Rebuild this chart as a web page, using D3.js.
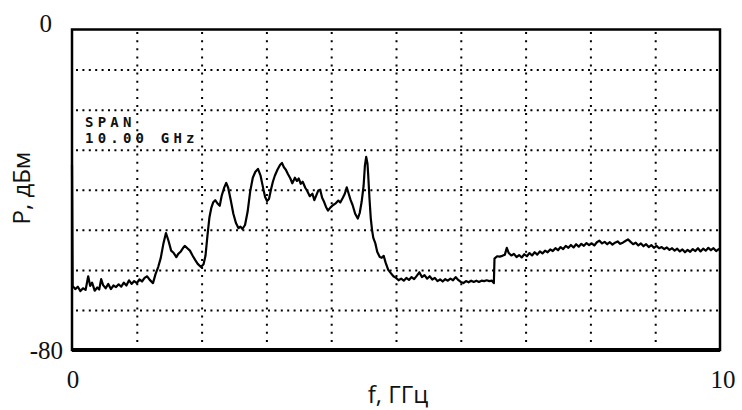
<!DOCTYPE html>
<html>
<head>
<meta charset="utf-8">
<script src="https://cdn.jsdelivr.net/npm/d3@7/dist/d3.min.js"></script>
<style>
   body { margin: 0; background: #fff; }
   .grid line { stroke: #000; stroke-width: 2; }
   .grid .domain { display: none; }
   .tick-label { font-family: "Liberation Serif", "DejaVu Serif", serif; font-size: 25px; fill: #111; }
   .axis-title { font-family: "Open Sans", "Noto Sans", sans-serif; font-size: 24px; fill: #111; }
   .span-text { font-family: "DejaVu Sans Mono", monospace; font-weight: bold; font-size: 14px; letter-spacing: 4.2px; fill: #111; }
   .trace { fill: none; stroke: #000; stroke-width: 2.2; stroke-linejoin: round; }
</style>
</head>
<body>
<div id="chart"></div>
<script>
   'use strict';

   // axis ticks
   var xTickLabels = [0, 10];
   var yTickLabels = [0, -80];
   var xGridValues = [1, 2, 3, 4, 5, 6, 7, 8, 9];
   var yGridValues = [-10, -20, -30, -40, -50, -60, -70];

   // spectrum trace
   var freqGHz = [
      0.00, 0.01, 0.05, 0.09, 0.13, 0.17, 0.21, 0.25, 0.28, 0.31, 0.35, 0.39, 0.42, 0.45, 0.48,
      0.52, 0.56, 0.60, 0.64, 0.68, 0.72, 0.76, 0.80, 0.84, 0.88, 0.92, 0.96, 1.00, 1.04, 1.08,
      1.12, 1.16, 1.20, 1.25, 1.29, 1.33, 1.37, 1.41, 1.45, 1.49, 1.53, 1.57, 1.61, 1.64, 1.68,
      1.72, 1.74, 1.78, 1.82, 1.86, 1.90, 1.94, 1.99, 2.03, 2.06, 2.09, 2.12, 2.15, 2.18, 2.21,
      2.25, 2.28, 2.31, 2.35, 2.38, 2.41, 2.45, 2.49, 2.53, 2.57, 2.60, 2.63, 2.67, 2.71, 2.75,
      2.79, 2.83, 2.87, 2.91, 2.95, 2.98, 3.01, 3.04, 3.07, 3.10, 3.13, 3.17, 3.21, 3.24, 3.27,
      3.30, 3.33, 3.37, 3.40, 3.44, 3.47, 3.50, 3.53, 3.56, 3.60, 3.63, 3.67, 3.71, 3.74, 3.77,
      3.80, 3.83, 3.86, 3.89, 3.92, 3.95, 3.99, 4.03, 4.07, 4.11, 4.14, 4.18, 4.21, 4.24, 4.27,
      4.30, 4.33, 4.37, 4.41, 4.44, 4.47, 4.50, 4.52, 4.54, 4.56, 4.57, 4.59, 4.61, 4.63, 4.65,
      4.68, 4.71, 4.75, 4.78, 4.81, 4.84, 4.88, 4.92, 4.96, 5.00, 5.04, 5.08, 5.12, 5.16, 5.20,
      5.24, 5.28, 5.32, 5.36, 5.40, 5.44, 5.48, 5.52, 5.56, 5.60, 5.64, 5.68, 5.72, 5.76, 5.80,
      5.84, 5.88, 5.92, 5.96, 6.00, 6.04, 6.08, 6.12, 6.16, 6.20, 6.24, 6.28, 6.32, 6.36, 6.40,
      6.44, 6.48, 6.51, 6.52, 6.56, 6.60, 6.64, 6.68, 6.71, 6.74, 6.78, 6.82, 6.86, 6.90, 6.94,
      6.98, 7.02, 7.06, 7.10, 7.14, 7.18, 7.22, 7.26, 7.30, 7.34, 7.38, 7.42, 7.46, 7.50, 7.54,
      7.58, 7.62, 7.66, 7.70, 7.74, 7.78, 7.82, 7.86, 7.90, 7.94, 7.98, 8.02, 8.06, 8.10, 8.14,
      8.18, 8.22, 8.26, 8.30, 8.34, 8.38, 8.42, 8.46, 8.50, 8.54, 8.58, 8.62, 8.66, 8.70, 8.74,
      8.78, 8.82, 8.86, 8.90, 8.94, 8.98, 9.02, 9.06, 9.10, 9.14, 9.18, 9.22, 9.26, 9.30, 9.34,
      9.38, 9.42, 9.46, 9.50, 9.54, 9.58, 9.62, 9.66, 9.70, 9.74, 9.78, 9.82, 9.86, 9.90, 9.94,
      9.98, 10.00
   ];
   var powerDbm = [
      -33.8, -64.0, -64.8, -64.2, -65.3, -64.6, -65.0, -61.6, -64.0, -63.2, -65.2, -64.4, -64.9, -62.3, -63.8,
      -64.6, -63.5, -64.8, -63.9, -64.3, -63.6, -64.2, -63.2, -63.9, -62.6, -63.5, -62.8, -63.3, -62.4, -62.9,
      -62.0, -61.6, -62.5, -63.3, -61.0, -59.3, -57.0, -53.5, -50.8, -52.8, -55.2, -55.8, -56.8, -56.0, -55.4,
      -54.4, -54.0, -54.6, -55.2, -56.4, -57.5, -58.5, -59.3, -58.6, -56.5, -51.5, -47.0, -44.5, -43.1, -42.6,
      -43.5, -44.0, -41.5, -39.4, -38.3, -39.5, -42.6, -46.0, -48.3, -49.6, -49.2, -49.8, -48.8, -45.5, -40.4,
      -37.0, -35.5, -34.8, -36.5, -39.6, -41.8, -42.8, -42.3, -40.0, -38.0, -36.5, -35.0, -33.8, -33.3, -34.4,
      -35.0, -36.0, -37.2, -38.4, -37.0, -37.8, -37.2, -38.5, -38.0, -39.5, -40.3, -41.6, -41.0, -42.6, -41.4,
      -40.2, -40.0, -42.0, -43.0, -44.3, -45.2, -44.4, -43.8, -43.4, -42.7, -43.2, -42.0, -41.0, -39.4, -41.0,
      -42.6, -43.8, -46.0, -47.2, -45.8, -43.0, -39.0, -34.0, -31.8, -33.5, -36.0, -42.0, -47.0, -50.0, -52.0,
      -53.3, -55.5, -56.8, -57.0, -56.5, -58.2, -60.0, -60.8, -61.6, -62.0, -62.6, -62.2, -62.7, -62.0, -62.5,
      -61.8, -62.3, -61.5, -60.6, -61.8, -61.3, -62.2, -61.6, -62.4, -62.0, -62.8, -62.4, -62.9, -62.3, -62.7,
      -62.2, -62.6, -61.8, -62.5, -63.0, -63.3, -62.8, -63.1, -62.7, -63.0, -62.7, -63.0, -62.7, -62.8, -62.6,
      -62.8, -62.7, -63.3, -57.2, -56.6, -56.7, -56.5, -56.2, -54.5, -55.8, -56.4, -56.0, -56.8, -56.3, -56.9,
      -56.1, -56.6, -55.8, -56.4, -55.6, -56.2, -55.4, -55.9, -55.2, -55.6, -54.9, -55.3, -54.6, -55.1, -54.3,
      -54.8, -54.0, -54.5, -53.8, -54.4, -53.6, -54.2, -53.5, -54.0, -53.3, -53.8, -53.4, -53.9, -53.1, -52.7,
      -53.4, -53.0, -53.6, -53.1, -53.7, -53.2, -52.9, -53.5, -53.2, -52.8, -52.4, -53.0, -53.6, -53.2, -53.9,
      -53.4, -54.1, -53.6, -54.3, -53.8, -54.5, -54.0, -54.6, -54.3, -54.8, -54.4, -55.0, -54.6, -55.2, -54.7,
      -55.4, -54.9, -55.6, -55.0, -55.5, -54.8, -55.3, -54.6, -55.4, -54.7, -55.2, -54.5, -55.1, -54.6, -55.3,
      -54.8, -55.0
   ];

   var width = 742, height = 410;
   var margin = { top: 29.5, right: 22, bottom: 60, left: 72 };
   var w = width - margin.left - margin.right;
   var h = height - margin.top - margin.bottom;

   var data = freqGHz.map(function (f, i) { return { x: f, y: powerDbm[i] }; });

   var xScale = d3.scaleLinear().domain([0, 10]).range([0, w]);
   var yScale = d3.scaleLinear().domain([-80, 0]).range([h, 0]);

   var svg = d3.select('#chart')
      .append('svg')
      .attr('width', width)
      .attr('height', height);

   var focus = svg.append('g')
      .attr('transform', 'translate(' + margin.left + ',' + margin.top + ')');

   // dotted grid
   focus.append('g')
      .attr('class', 'grid grid--x')
      .attr('transform', 'translate(0,' + h + ')')
      .call(d3.axisBottom(xScale).tickValues(xGridValues).tickSize(-h).tickFormat(''))
      .selectAll('line')
      .attr('stroke-dasharray', '2,6.1');

   focus.append('g')
      .attr('class', 'grid grid--y')
      .call(d3.axisLeft(yScale).tickValues(yGridValues).tickSize(-w + 4).tickFormat(''))
      .selectAll('line')
      .attr('transform', 'translate(4,0)')
      .attr('stroke-dasharray', '2,4.4');

   // the trace
   var valueline = d3.line()
      .x(function (d) { return xScale(d.x); })
      .y(function (d) { return yScale(d.y); });

   focus.append('path')
      .datum(data)
      .attr('class', 'trace')
      .attr('d', valueline);

   // frame
   focus.append('rect')
      .attr('x', 0).attr('y', 0)
      .attr('width', w).attr('height', h)
      .attr('fill', 'none')
      .attr('stroke', '#000')
      .attr('stroke-width', 2.5);
   focus.append('line')
      .attr('x1', 0).attr('x2', w)
      .attr('y1', h).attr('y2', h)
      .attr('stroke', '#000')
      .attr('stroke-width', 4);

   // tick labels
   focus.selectAll('.xlab')
      .data(xTickLabels)
      .enter().append('text')
      .attr('class', 'tick-label')
      .attr('text-anchor', 'middle')
      .attr('x', function (d) { return xScale(d) + (d === 0 ? 1 : 3); })
      .attr('y', h + 38)
      .text(function (d) { return d; });

   focus.selectAll('.ylab')
      .data(yTickLabels)
      .enter().append('text')
      .attr('class', 'tick-label')
      .attr('text-anchor', 'end')
      .attr('x', function (d) { return d === 0 ? -20 : -9; })
      .attr('y', function (d) { return yScale(d) + (d === 0 ? 2 : 9); })
      .text(function (d) { return d; });

   // axis titles
   svg.append('text')
      .attr('class', 'axis-title')
      .attr('text-anchor', 'middle')
      .attr('x', 398)
      .attr('y', 403)
      .text('f, ГГц');

   svg.append('text')
      .attr('class', 'axis-title')
      .attr('text-anchor', 'middle')
      .attr('transform', 'translate(30,188) rotate(-90)')
      .text('P, дБм');

   // analyzer annotation
   svg.append('text')
      .attr('class', 'span-text')
      .attr('x', 85).attr('y', 127)
      .text('SPAN');
   svg.append('text')
      .attr('class', 'span-text')
      .attr('x', 85).attr('y', 143)
      .text('10.00 GHz');
</script>
</body>
</html>
